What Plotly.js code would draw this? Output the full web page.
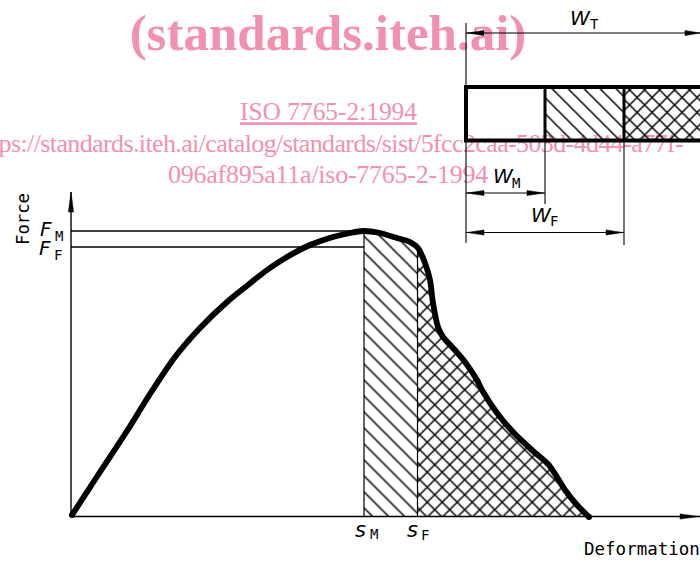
<!DOCTYPE html>
<html><head><meta charset="utf-8">
<script src="https://cdn.plot.ly/plotly-3.0.1.min.js"></script>
<style>html,body{margin:0;padding:0;background:#fff}#c{width:700px;height:562px}</style>
</head><body><div id="c"></div>
<script>
// Force / deformation curve
const curveX = [72,100,127,150,175,200,227,248,267,287,310,333,350,363,380,397,410,418,425,430,433,438,443,453,465,477,482,497,513,533,548,557,565,577,589];
const curveY = [515,472,431,394,357,328,302,285,270,257,245,237,233,231,233,238,242,248,263,280,303,327,337,348,362,380,390,413,432,451,464,477,490,505,517];
const baseY = 516.5, sM = 364, sF = 417.5, fM = 231, fF = 247, axisX = 71, axisTop = 192, rightEdge = 700;
const hatchTopM = 231, hatchTopF = 246;
// Work-bar
const barLeft = 466, barM = 545, barF = 624, barTop = 87, barBottom = 140.5;
const dimT = 33, dimM = 193, dimF = 232.5;
// Labels
const watermark = [
  {t:"(standards.iteh.ai)", x:328, y:37, s:51, b:true, k:0},
  {t:"<u>ISO 7765-2:1994</u>", x:328.5, y:114, s:25.4, k:0},
  {t:"https://standards.iteh.ai/catalog/standards/sist/5fcc2caa-503d-4d44-a77f-", x:328, y:145, s:26, k:-0.62},
  {t:"096af895a11a/iso-7765-2-1994", x:328, y:176, s:26, k:-0.25}
];
const mono = "DejaVu Sans Mono, monospace", ital = "DejaVu Sans, sans-serif";
const pink = "#f291ae";

const line = (xs, ys, w) => ({x:xs, y:ys, mode:'lines', line:{color:'#000', width:w}, hoverinfo:'skip', showlegend:false});
const hatch = (xs, ys, shape, size, sol) => ({x:xs, y:ys, mode:'lines', fill:'toself', line:{width:0, color:'rgba(0,0,0,0)'},
  fillcolor:'rgba(0,0,0,0)', fillpattern:{shape:shape, size:size, solidity:sol, fgcolor:'#000', bgcolor:'rgba(0,0,0,0)', fgopacity:1},
  hoverinfo:'skip', showlegend:false});
const arrow = (tx, ty, dx, dy, len=16, hw=3) => ({x:[tx, tx+dx*len-dy*hw, tx+dx*len+dy*hw, tx], y:[ty, ty+dy*len-dx*hw, ty+dy*len+dx*hw, ty],
  mode:'lines', fill:'toself', fillcolor:'#000', line:{color:'#000', width:0.5}, hoverinfo:'skip', showlegend:false});

const traces = [];
watermark.forEach(w => traces.push({x:[w.x], y:[w.y], mode:'text', text:[w.t], textposition:'middle center',
  textfont:{family:"Liberation Serif, serif", size:w.s, color:pink, weight:w.b?700:400}, hoverinfo:'skip', showlegend:false}));

// hatched areas under the curve
const idxM = curveX.findIndex(v => v >= sM), idxF = curveX.findIndex(v => v >= sF);
traces.push(hatch([sM, ...curveX.slice(idxM, idxF), sF, sF, sM], [hatchTopM, ...curveY.slice(idxM, idxF), hatchTopF, baseY, baseY], '\\', 11.3, 0.13));
traces.push(hatch([sF, ...curveX.slice(idxF), sF], [hatchTopF, ...curveY.slice(idxF), baseY], 'x', 10.6, 0.26));
// bar hatching
traces.push(hatch([barM,barF,barF,barM,barM],[barTop,barTop,barBottom,barBottom,barTop],'\\',11.3, 0.13));
traces.push(hatch([barF,rightEdge,rightEdge,barF,barF],[barTop,barTop,barBottom,barBottom,barTop],'x',10.6, 0.26));

// axes and guides
traces.push(line([axisX,axisX],[baseY,axisTop],1.4));
traces.push(line([axisX,rightEdge],[baseY,baseY],1.4));
traces.push(arrow(axisX,axisTop,0,1,20,2.6));
traces.push(arrow(rightEdge-1,baseY,-1,0,19,2.6));
traces.push(line([axisX,sM],[fM,fM],1.3));
traces.push(line([axisX,sM],[fF,fF],1.3));
traces.push(line([sM,sM],[fM,baseY],1.2));
traces.push(line([sF,sF],[hatchTopF,baseY],1.2));

// bar outline
traces.push(line([rightEdge,barLeft,barLeft,rightEdge],[barTop,barTop,barBottom,barBottom],4));
traces.push(line([barM,barM],[barTop,barBottom],3));
traces.push(line([barF,barF],[barTop,barBottom],3));

// dimension lines
traces.push(line([barLeft,barLeft],[23,243],1.1));
traces.push(line([barM,barM],[barBottom,204],1.1));
traces.push(line([barF,barF],[barBottom,245],1.1));
traces.push(line([barLeft,rightEdge],[dimT,dimT],1.1));
traces.push(line([barLeft,barM],[dimM,dimM],1.1));
traces.push(line([barLeft,barF],[dimF,dimF],1.1));
traces.push(arrow(barLeft+1,dimT,1,0,17,2.6)); traces.push(arrow(rightEdge,dimT,-1,0,15,2.6));
traces.push(arrow(barLeft+1,dimM,1,0,17,2.6)); traces.push(arrow(barM-1,dimM,-1,0,17,2.6));
traces.push(arrow(barLeft+1,dimF,1,0,17,2.6)); traces.push(arrow(barF-1,dimF,-1,0,17,2.6));

// curve
const curve = line(curveX, curveY, 5.8); curve.line.shape='spline'; curve.line.smoothing=0.8;
traces.push(curve);
traces.push({x:[curveX[0], curveX[curveX.length-1]], y:[curveY[0], curveY[curveY.length-1]], mode:'markers',
  marker:{color:'#000', size:6}, hoverinfo:'skip', showlegend:false});

const lab = (t,x,y,size,family,extra={}) => Object.assign({text:t,x:x,y:y,xref:'x',yref:'y',showarrow:false,xanchor:'center',yanchor:'middle',
  font:{family:family,size:size,color:'#000'}},extra);
const annots = [
  lab("Force",23,219,17.3,mono,{textangle:-90}),
  lab("Deformation",642,549,17.5,mono),
  lab("<i>F</i>",46,229,20,ital), lab("M",59,236,14,mono),
  lab("<i>F</i>",45,248,20,ital), lab("F",58,255,14,mono),
  lab("<i>s</i>",360,530,21,ital), lab("M",374,534,14,mono),
  lab("<i>s</i>",412,530,21,ital), lab("F",425,535,14,mono),
  lab("<i>W</i>",580,18,20,ital), lab("T",594,24,14,mono),
  lab("<i>W</i>",503,176,20,ital), lab("M",516,183,14,mono),
  lab("<i>W</i>",541,215,20,ital), lab("F",554,221,14,mono)
];

Plotly.newPlot('c', traces, {
  width:700, height:562, margin:{l:0,r:0,t:0,b:0}, paper_bgcolor:'#fff', plot_bgcolor:'#fff', showlegend:false,
  xaxis:{range:[0,700], visible:false, fixedrange:true},
  yaxis:{range:[562,0], visible:false, fixedrange:true},
  annotations:annots
}, {staticPlot:true, displayModeBar:false}).then(() => {
  const texts = document.querySelectorAll('.textpoint text');
  texts.forEach((el, i) => { if (watermark[i] && watermark[i].k) el.style.letterSpacing = watermark[i].k + 'px'; });
});
</script></body></html>
